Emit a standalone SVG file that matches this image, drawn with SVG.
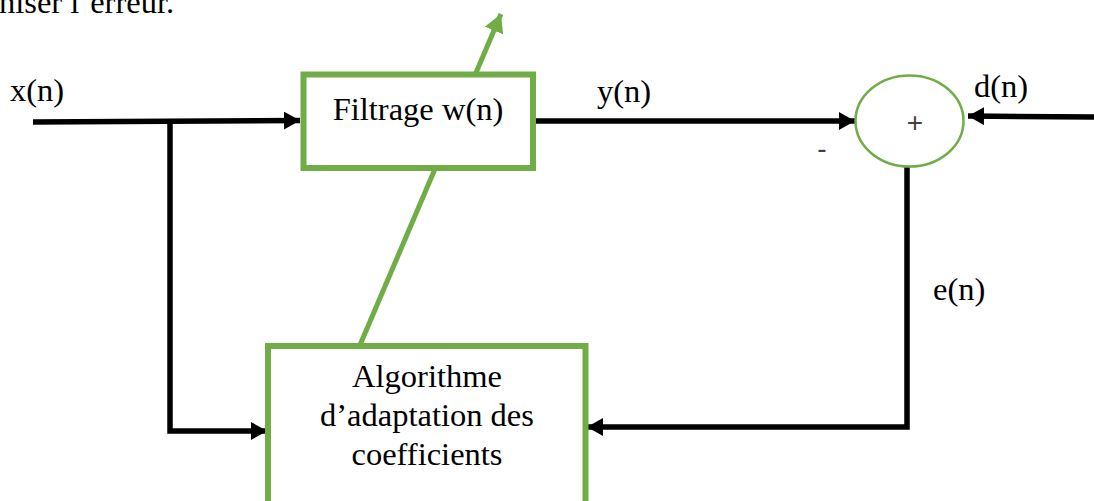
<svg xmlns="http://www.w3.org/2000/svg" width="1094" height="501" viewBox="0 0 1094 501">
  <style>
    .lbl { font-family: "Liberation Serif", "Times New Roman", serif; font-size: 32.5px; fill: #000; }
    .sign { font-family: "Liberation Sans", Arial, sans-serif; font-size: 28px; fill: #404040; }
    .box { fill: #fff; stroke: #70AD47; stroke-width: 6; }
    .wire { fill: none; stroke: #000; stroke-width: 5.5; }
    .green { fill: none; stroke: #70AD47; stroke-width: 5; }
  </style>
  <defs>
    <marker id="arrow" markerUnits="userSpaceOnUse" markerWidth="16" markerHeight="18" refX="16" refY="9" orient="auto">
      <path d="M0,0 L16,9 L0,18 Z" fill="#000"/>
    </marker>
    <marker id="arrowGreen" markerUnits="userSpaceOnUse" markerWidth="18" markerHeight="20" refX="18" refY="10" orient="auto">
      <path d="M0,0 L18,10 L0,20 Z" fill="#70AD47"/>
    </marker>
  </defs>

  <rect width="1094" height="501" fill="#fff"/>

  <!-- tail of the preceding paragraph -->
  <text class="lbl" x="-1" y="13">niser l’erreur.</text>

  <!-- adaptation arrow crossing the filter block -->
  <g id="adapt-arrow">
    <line class="green" x1="360" y1="345" x2="501" y2="14" marker-end="url(#arrowGreen)"/>
  </g>

  <!-- connectors -->
  <g id="connectors">
    <!-- x(n) into the filter -->
    <path class="wire" d="M33,122 L300,120.5" marker-end="url(#arrow)"/>
    <!-- x(n) branch into the adaptation algorithm -->
    <path class="wire" d="M170,121 L170,431 L267,431" marker-end="url(#arrow)"/>
    <!-- y(n) into the summing node -->
    <path class="wire" d="M533,121 L855,121" marker-end="url(#arrow)"/>
    <!-- d(n) into the summing node -->
    <path class="wire" d="M1094,117 L968,116" marker-end="url(#arrow)"/>
    <!-- e(n) back to the algorithm -->
    <path class="wire" d="M907,166 L907,427 L587,427" marker-end="url(#arrow)"/>
  </g>

  <g id="filter">
    <rect class="box" x="303.5" y="74.5" width="229.5" height="93.5"/>
    <text class="lbl" x="418" y="120" text-anchor="middle">Filtrage w(n)</text>
  </g>

  <g id="algorithm">
    <rect class="box" x="268" y="346" width="317.5" height="200"/>
    <text class="lbl" x="427" y="387" text-anchor="middle">Algorithme</text>
    <text class="lbl" x="427" y="426" text-anchor="middle">d’adaptation des</text>
    <text class="lbl" x="427" y="465" text-anchor="middle">coefficients</text>
  </g>

  <g id="sum">
    <ellipse cx="909.5" cy="121" rx="54" ry="45.5" fill="#fff" stroke="#70AD47" stroke-width="2.5"/>
    <text class="sign" x="915" y="132" text-anchor="middle">+</text>
    <text class="sign" x="822" y="158" text-anchor="middle">-</text>
  </g>

  <!-- signal labels -->
  <text class="lbl" x="10" y="101">x(n)</text>
  <text class="lbl" x="597" y="102">y(n)</text>
  <text class="lbl" x="974" y="97">d(n)</text>
  <text class="lbl" x="933" y="300">e(n)</text>
</svg>
